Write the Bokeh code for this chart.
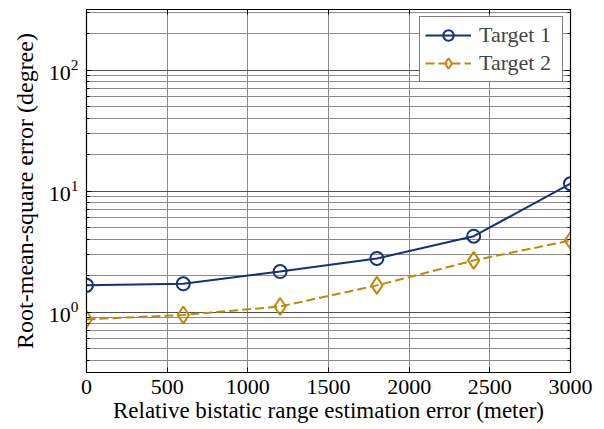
from bokeh.plotting import figure
from bokeh.models import Range1d, FixedTicker, LogAxis, LinearAxis, Legend, LegendItem
from bokeh.embed import file_html
from bokeh.resources import INLINE

# ---- data ----
x_vals = [0, 600, 1200, 1800, 2400, 3000]
target1 = [1.66, 1.71, 2.16, 2.77, 4.23, 11.5]
target2 = [0.87, 0.945, 1.11, 1.66, 2.67, 3.90]
series_names = ["Target 1", "Target 2"]
x_ticks = [0, 500, 1000, 1500, 2000, 2500, 3000]
y_major_ticks = [1, 10, 100]
y_minor_ticks = [0.4, 0.5, 0.6, 0.7, 0.8, 0.9,
                 2, 3, 4, 5, 6, 7, 8, 9,
                 20, 30, 40, 50, 60, 70, 80, 90,
                 200, 300]
x_label = "Relative bistatic range estimation error (meter)"
y_label = "Root-mean-square error (degree)"

FONT = "Liberation Serif"
C1 = "#15307c"
C2 = "#c0870d"

p = figure(width=596, height=425, y_axis_type="log",
           x_range=Range1d(0, 3000), y_range=Range1d(10 ** -0.5, 10 ** 2.5),
           output_backend="svg", toolbar_location=None,
           min_border_left=86, min_border_right=26, min_border_top=9, min_border_bottom=48)

p.outline_line_color = "black"
p.outline_line_width = 1.2
p.background_fill_color = "white"
p.border_fill_color = "white"

xt = FixedTicker(ticks=x_ticks)
yt = FixedTicker(ticks=y_major_ticks, minor_ticks=y_minor_ticks)
p.xaxis.ticker = xt
p.yaxis.ticker = yt

for ax in [p.xaxis[0], p.yaxis[0]]:
    ax.major_label_text_font = FONT
    ax.major_label_text_font_size = "22px"
    ax.major_label_text_color = "black"
    ax.axis_label_text_font = FONT
    ax.axis_label_text_font_size = "23px"
    ax.axis_label_text_font_style = "normal"
    ax.axis_label_text_color = "black"
    ax.major_tick_in = 5
    ax.major_tick_out = 0
    ax.minor_tick_in = 3
    ax.minor_tick_out = 0
    ax.axis_line_color = "black"
    ax.major_tick_line_color = "black"
    ax.minor_tick_line_color = "black"

p.xaxis.axis_label = x_label
p.yaxis.axis_label = y_label
p.yaxis.axis_label_text_font_size = "24px"
p.xaxis.major_label_standoff = 7
p.xaxis.axis_label_standoff = 1
p.yaxis.major_label_standoff = 8
p.yaxis.axis_label_standoff = 8

p.xgrid.grid_line_color = "#8a8a8a"
p.xgrid.grid_line_width = 1
p.ygrid.grid_line_color = "#505050"
p.ygrid.grid_line_width = 1
p.ygrid.minor_grid_line_color = "#8a8a8a"
p.ygrid.minor_grid_line_width = 1

# frame ticks on top / right (labels hidden)
top_ax = LinearAxis(ticker=FixedTicker(ticks=x_ticks), major_label_text_font_size="1px",
                    major_label_text_color=None,
                    major_tick_in=5, major_tick_out=0, major_label_standoff=0,
                    axis_line_color="black", minor_tick_line_color=None)
right_ax = LogAxis(ticker=FixedTicker(ticks=y_major_ticks, minor_ticks=y_minor_ticks),
                   major_label_text_font_size="1px", major_label_text_color=None,
                   major_tick_in=5, major_tick_out=0,
                   minor_tick_in=3, minor_tick_out=0, major_label_standoff=0,
                   axis_line_color="black")
p.add_layout(top_ax, "above")
p.add_layout(right_ax, "right")

l1 = p.line(x_vals, target1, line_color=C1, line_width=2)
m1 = p.scatter(x_vals, target1, marker="circle", size=13, line_color=C1, line_width=2,
               fill_color=None)
l2 = p.line(x_vals, target2, line_color=C2, line_width=2, line_dash="9 4")
m2 = p.scatter(x_vals, target2, marker="diamond", size=17, line_color=C2, line_width=2,
               fill_color=None)

legend = Legend(items=[LegendItem(label=series_names[0], renderers=[l1, m1]),
                       LegendItem(label=series_names[1], renderers=[l2, m2])],
                location="top_right")
legend.label_text_font = FONT
legend.label_text_font_size = "22px"
legend.border_line_color = "black"
legend.border_line_width = 1
legend.glyph_width = 46
legend.label_standoff = 8
legend.label_width = 78
legend.label_height = 26
legend.glyph_height = 26
legend.spacing = 2
legend.padding = 5
legend.margin = 7
legend.background_fill_color = "white"
legend.background_fill_alpha = 1
p.add_layout(legend)

open("out.html", "w").write(file_html(p, INLINE))
